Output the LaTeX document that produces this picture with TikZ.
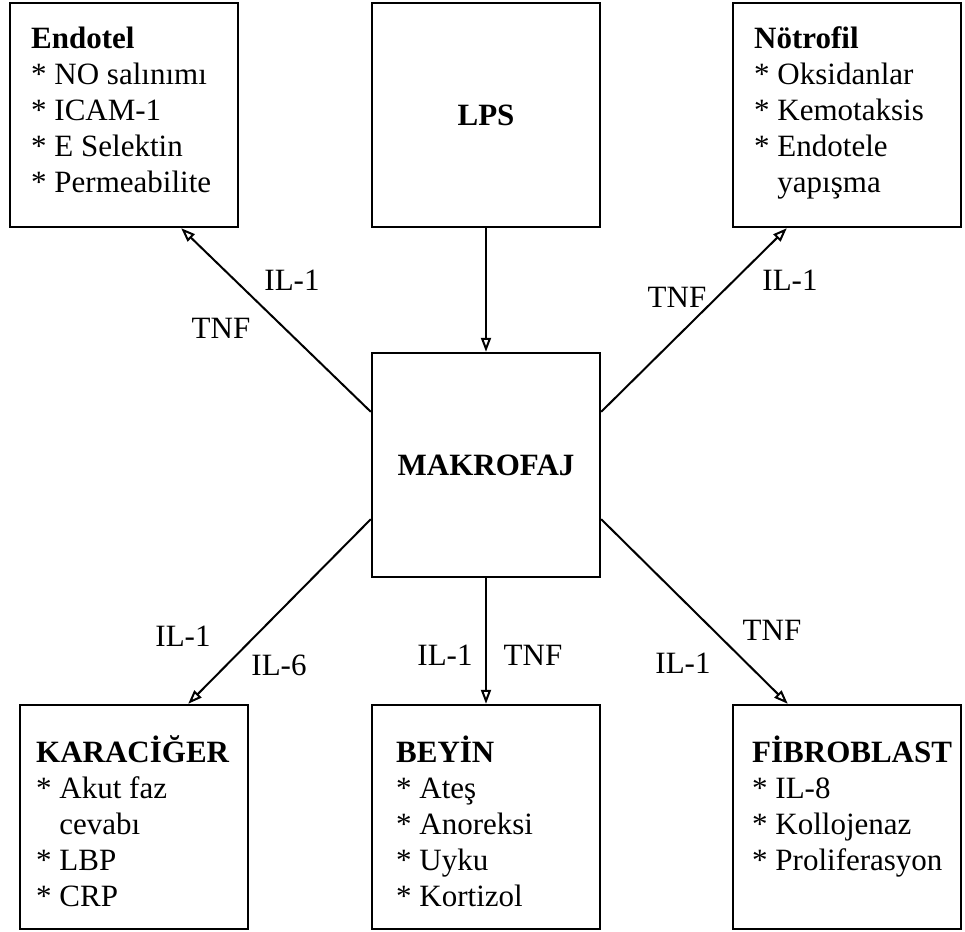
\documentclass[tikz,border=0pt]{standalone}
\usepackage{fontspec}
\setmainfont{Liberation Serif}
\usetikzlibrary{arrows.meta}
\begin{document}
\begin{tikzpicture}[x=0.5pt,y=-0.5pt,
  every node/.style={font=\fontsize{15.5}{18}\selectfont},
  box/.style={draw, line width=1.2pt, minimum width=114pt, minimum height=112pt, inner sep=0pt},
  boxtext/.style={anchor=north west, align=left, inner sep=0pt},
  conn/.style={line width=1pt, -{Triangle[open, length=7pt, width=5pt]}},
  lbl/.style={inner sep=0pt}]
\useasboundingbox (0,0) rectangle (965,932);
% boxes
\node[box] (endotel) at (124,115) {};
\node[box] (lps) at (486,115) {\textbf{LPS}};
\node[box] (notrofil) at (847,115) {};
\node[box] (makrofaj) at (486,465) {\textbf{MAKROFAJ}};
\node[box] (karaciger) at (134,817) {};
\node[box] (beyin) at (486,817) {};
\node[box] (fibroblast) at (847,817) {};
% box texts
\node[boxtext] (endotel-t) at ([xshift=11pt,yshift=-10.4pt]endotel.north west)
  {\strut\textbf{Endotel}\\{}* NO salınımı\\{}* ICAM-1\\{}* E Selektin\\{}* Permeabilite};
\node[boxtext] (notrofil-t) at ([xshift=11pt,yshift=-10.4pt]notrofil.north west)
  {\strut\textbf{Nötrofil}\\{}* Oksidanlar\\{}* Kemotaksis\\{}* Endotele\\{}\hphantom{*}\ yapışma};
\node[boxtext] (karaciger-t) at ([xshift=8.5pt,yshift=-15.9pt]karaciger.north west)
  {\strut\textbf{KARACİĞER}\\{}* Akut faz\\{}\hphantom{*}\ cevabı\\{}* LBP\\{}* CRP};
\node[boxtext] (beyin-t) at ([xshift=12.5pt,yshift=-15.9pt]beyin.north west)
  {\strut\textbf{BEYİN}\\{}* Ateş\\{}* Anoreksi\\{}* Uyku\\{}* Kortizol};
\node[boxtext] (fibroblast-t) at ([xshift=10pt,yshift=-15.9pt]fibroblast.north west)
  {\strut\textbf{FİBROBLAST}\\{}* IL-8\\{}* Kollojenaz\\{}* Proliferasyon};
% connectors
\draw[conn] (lps) -- (makrofaj);
\draw[conn] ([yshift=-30pt]makrofaj.north west) -- ([xshift=-29pt]endotel.south east);
\draw[conn] ([yshift=-30pt]makrofaj.north east) -- ([xshift=27.5pt]notrofil.south west);
\draw[conn] ([yshift=29.5pt]makrofaj.south west) -- ([xshift=-30.5pt]karaciger.north east);
\draw[conn] (makrofaj) -- (beyin);
\draw[conn] ([yshift=29.5pt]makrofaj.south east) -- ([xshift=28pt]fibroblast.north west);
% labels
\node[lbl] (ul-il1) at (292,280) {IL-1};
\node[lbl] (ul-tnf) at (221,328) {TNF};
\node[lbl] (ur-tnf) at (677,297) {TNF};
\node[lbl] (ur-il1) at (790,280) {IL-1};
\node[lbl] (ll-il1) at (183,636) {IL-1};
\node[lbl] (ll-il6) at (279,665) {IL-6};
\node[lbl] (b-il1) at (445,655) {IL-1};
\node[lbl] (b-tnf) at (533,655) {TNF};
\node[lbl] (lr-tnf) at (772,630) {TNF};
\node[lbl] (lr-il1) at (683,663) {IL-1};
\end{tikzpicture}
\end{document}
